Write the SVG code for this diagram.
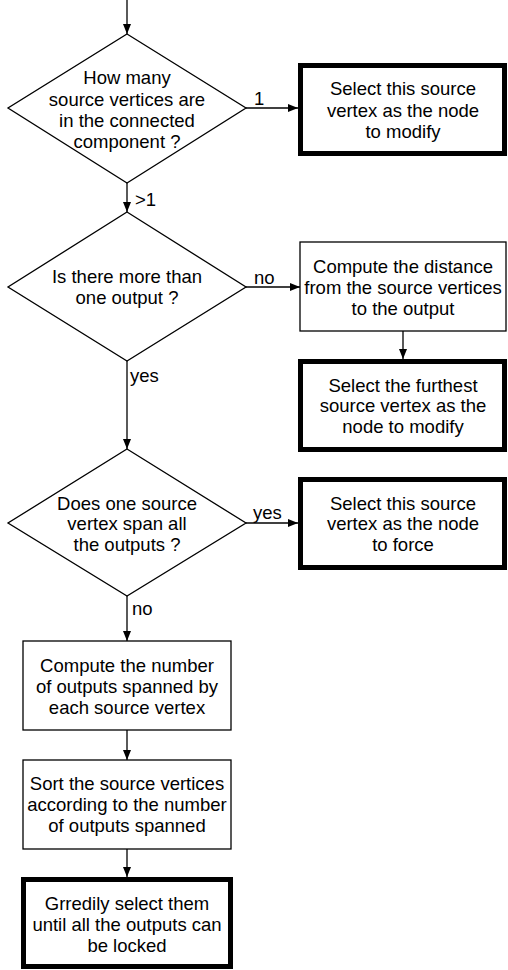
<svg xmlns="http://www.w3.org/2000/svg" width="508" height="970" viewBox="0 0 508 970">
<style>
text{font-family:"Liberation Sans",Arial,sans-serif;font-size:18.5px;fill:#000;text-anchor:middle;dominant-baseline:central}
.lbl{text-anchor:start}
.thin{fill:#fff;stroke:#000;stroke-width:1.3}
.thick{fill:#fff;stroke:#000;stroke-width:5}
.c{stroke:#000;stroke-width:1.3;fill:none;marker-end:url(#ah)}
</style>
<defs>
<marker id="ah" viewBox="0 0 10 8" refX="10" refY="4" markerWidth="10" markerHeight="8" markerUnits="userSpaceOnUse" orient="auto">
<path d="M0,0 L10,4 L0,8 Z" fill="#000"/>
</marker>
</defs>
<g id="connectors">
<line class="c" x1="127" y1="0" x2="127" y2="34"/>
<line class="c" x1="246" y1="108" x2="298" y2="108"/>
<line class="c" x1="127" y1="183" x2="127" y2="212"/>
<line class="c" x1="246" y1="287" x2="300" y2="287"/>
<line class="c" x1="403" y1="331" x2="403" y2="359"/>
<line class="c" x1="127" y1="361" x2="127" y2="449"/>
<line class="c" x1="246" y1="523" x2="298" y2="523"/>
<line class="c" x1="127" y1="596" x2="127" y2="641"/>
<line class="c" x1="127" y1="730" x2="127" y2="760"/>
<line class="c" x1="127" y1="849" x2="127" y2="877"/>
<text class="lbl" x="254" y="98">1</text>
<text class="lbl" x="135" y="199">&gt;1</text>
<text class="lbl" x="254" y="277">no</text>
<text class="lbl" x="130" y="375">yes</text>
<text class="lbl" x="253" y="512">yes</text>
<text class="lbl" x="132" y="608">no</text>
</g>
<g id="d1">
<polygon class="thin" points="127,34 246,108 127,183 8,108"/>
<text x="127" y="77">How many</text>
<text x="127" y="99">source vertices are</text>
<text x="127" y="120">in the connected</text>
<text x="127" y="141">component ?</text>
</g>
<g id="b1">
<rect class="thick" x="300.5" y="65.5" width="204" height="88"/>
<text x="403" y="88">Select this source</text>
<text x="403" y="110">vertex as the node</text>
<text x="403" y="131">to modify</text>
</g>
<g id="d2">
<polygon class="thin" points="127,212 246,287 127,361 8,287"/>
<text x="127" y="276">Is there more than</text>
<text x="127" y="297">one output ?</text>
</g>
<g id="b2">
<rect class="thin" x="300" y="242" width="206" height="89"/>
<text x="403" y="266">Compute the distance</text>
<text x="403" y="287">from the source vertices</text>
<text x="403" y="308">to the output</text>
</g>
<g id="b3">
<rect class="thick" x="300.5" y="361.5" width="204" height="88"/>
<text x="403" y="385">Select the furthest</text>
<text x="403" y="405">source vertex as the</text>
<text x="403" y="426">node to modify</text>
</g>
<g id="d3">
<polygon class="thin" points="127,449 246,523 127,596 8,523"/>
<text x="127" y="503">Does one source</text>
<text x="127" y="523">vertex span all</text>
<text x="127" y="544">the outputs ?</text>
</g>
<g id="b4">
<rect class="thick" x="300.5" y="479.5" width="204" height="88"/>
<text x="403" y="503">Select this source</text>
<text x="403" y="523">vertex as the node</text>
<text x="403" y="544">to force</text>
</g>
<g id="b5">
<rect class="thin" x="23" y="641" width="208" height="89"/>
<text x="127" y="665">Compute the number</text>
<text x="127" y="686">of outputs spanned by</text>
<text x="127" y="707">each source vertex</text>
</g>
<g id="b6">
<rect class="thin" x="23" y="760" width="208" height="89"/>
<text x="127" y="783">Sort the source vertices</text>
<text x="127" y="804">according to the number</text>
<text x="127" y="825">of outputs spanned</text>
</g>
<g id="b7">
<rect class="thick" x="23.5" y="879.5" width="207" height="87"/>
<text x="127" y="903">Grredily select them</text>
<text x="127" y="924">until all the outputs can</text>
<text x="127" y="945">be locked</text>
</g>
</svg>
